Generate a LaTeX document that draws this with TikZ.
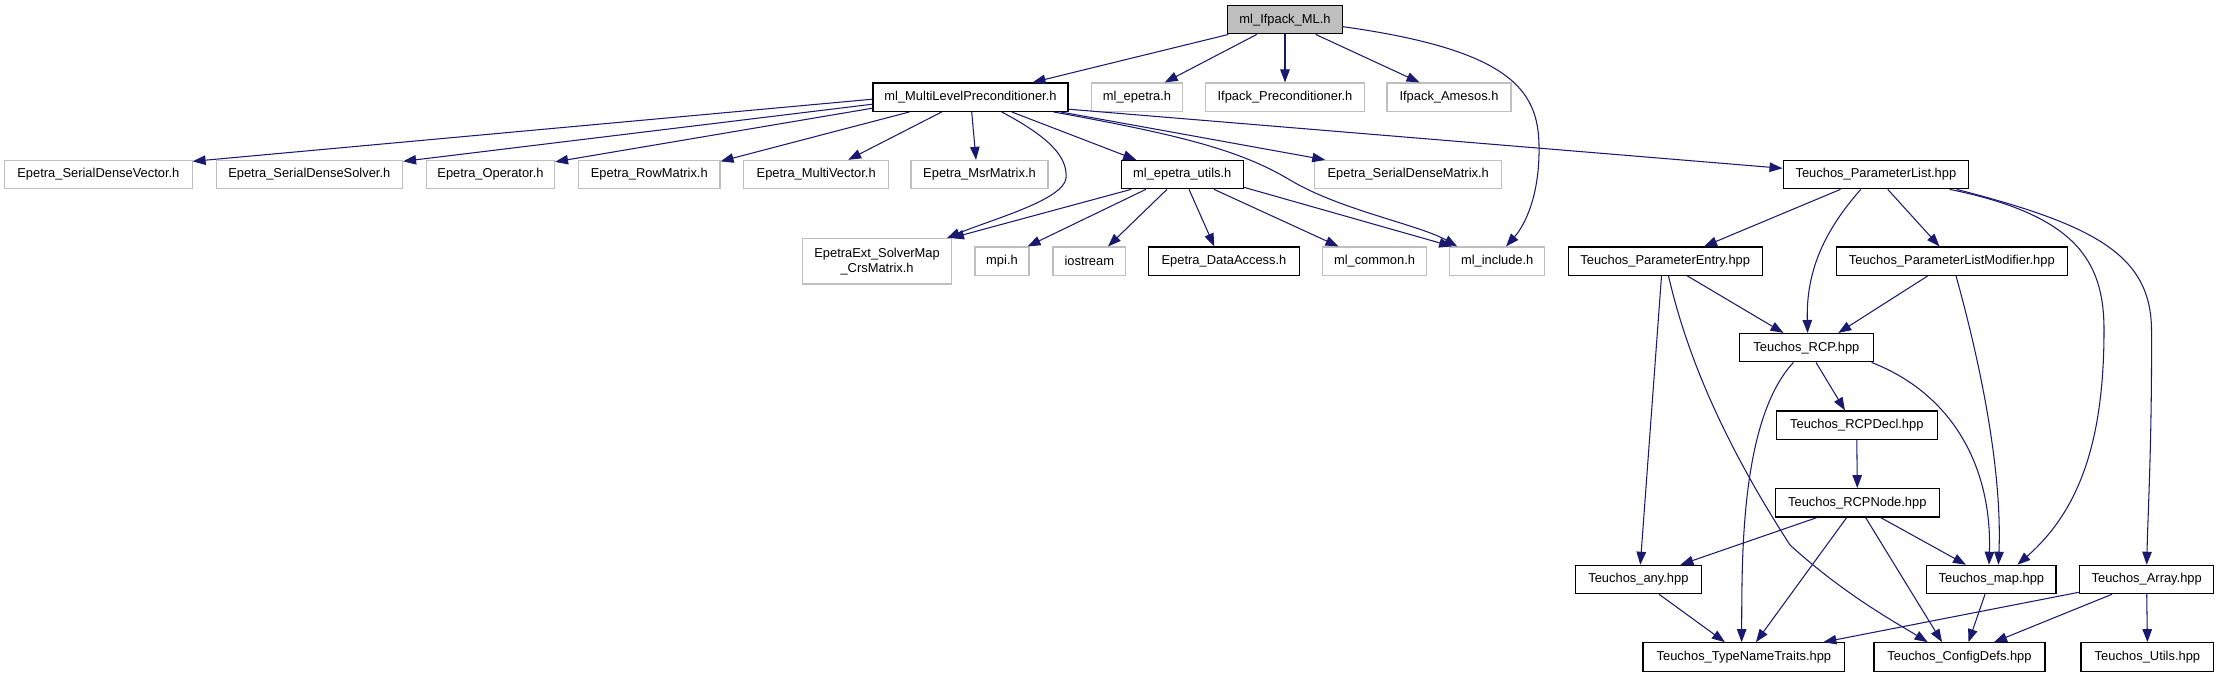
\documentclass[tikz,border=0pt]{standalone}
\usepackage{fontspec}
\setmainfont{Liberation Sans}
\usetikzlibrary{arrows.meta}
\definecolor{edgec}{HTML}{191970}
\definecolor{greyb}{HTML}{BFBFBF}
\begin{document}
\begin{tikzpicture}[x=1pt,y=-1pt,
  box/.style={draw=black, line width=1.1pt, fill=white, minimum height=28.4pt, inner sep=0pt, font=\fontsize{12.9}{15}\selectfont},
  gbox/.style={box, draw=greyb},
  rootbox/.style={box, fill=greyb},
  e/.style={draw=edgec, line width=1.05pt, -{Triangle[length=13pt,width=9.5pt]}}]
\useasboundingbox (0,0) rectangle (2219,677);
\fill[white] (0,0) rectangle (2219,677);
% row 0
\node[rootbox, minimum width=115pt] (root) at (1285,19.7) {ml\_Ifpack\_ML.h};
% row 1
\node[box, minimum width=195pt] (mlp) at (970.5,97.2) {ml\_MultiLevelPreconditioner.h};
\node[gbox, minimum width=91pt] (mle) at (1137,97.2) {ml\_epetra.h};
\node[gbox, minimum width=159pt] (ifp) at (1285,97.2) {Ifpack\_Preconditioner.h};
\node[gbox, minimum width=124pt] (ame) at (1449,97.2) {Ifpack\_Amesos.h};
% row 2
\node[gbox, minimum width=187.3pt] (sdv) at (98.4,174.6) {Epetra\_SerialDenseVector.h};
\node[gbox, minimum width=186.5pt] (sds) at (309.3,174.6) {Epetra\_SerialDenseSolver.h};
\node[gbox, minimum width=128pt] (op) at (490.5,174.6) {Epetra\_Operator.h};
\node[gbox, minimum width=141.4pt] (rowm) at (649.3,174.6) {Epetra\_RowMatrix.h};
\node[gbox, minimum width=144.8pt] (mv) at (816.2,174.6) {Epetra\_MultiVector.h};
\node[gbox, minimum width=137pt] (msr) at (979.5,174.6) {Epetra\_MsrMatrix.h};
\node[box, minimum width=122.5pt] (utils) at (1182.3,174.6) {ml\_epetra\_utils.h};
\node[gbox, minimum width=186.8pt] (sdm) at (1408.2,174.6) {Epetra\_SerialDenseMatrix.h};
\node[box, minimum width=185.7pt] (plist) at (1875.9,174.6) {Teuchos\_ParameterList.hpp};
% row 3
\node[gbox, minimum width=148.6pt, minimum height=45.3pt, align=center] (ext) at (877.1,261.3) {EpetraExt\_SolverMap\\\_CrsMatrix.h};
\node[gbox, minimum width=54pt] (mpi) at (1002,261.2) {mpi.h};
\node[gbox, minimum width=72.7pt] (ios) at (1089.3,261.2) {iostream};
\node[box, minimum width=150.5pt] (da) at (1224,261.2) {Epetra\_DataAccess.h};
\node[gbox, minimum width=104.3pt] (common) at (1374.5,261.2) {ml\_common.h};
\node[gbox, minimum width=95pt] (include) at (1497.2,261.2) {ml\_include.h};
\node[box, minimum width=194.3pt] (pentry) at (1665.2,261.2) {Teuchos\_ParameterEntry.hpp};
\node[box, minimum width=231pt] (pmod) at (1951.8,261.2) {Teuchos\_ParameterListModifier.hpp};
% lower rows
\node[box, minimum width=133.3pt] (rcp) at (1806.4,347.7) {Teuchos\_RCP.hpp};
\node[box, minimum width=160.8pt] (rcpdecl) at (1856.8,425.2) {Teuchos\_RCPDecl.hpp};
\node[box, minimum width=164.5pt] (rcpnode) at (1857.3,502.8) {Teuchos\_RCPNode.hpp};
\node[box, minimum width=125.3pt] (any) at (1638.4,579.5) {Teuchos\_any.hpp};
\node[box, minimum width=129.2pt] (map) at (1991.4,579.5) {Teuchos\_map.hpp};
\node[box, minimum width=134.3pt] (array) at (2146.7,579.5) {Teuchos\_Array.hpp};
\node[box, minimum width=201.8pt] (tnt) at (1743.9,656.9) {Teuchos\_TypeNameTraits.hpp};
\node[box, minimum width=171pt] (cfg) at (1959.5,656.9) {Teuchos\_ConfigDefs.hpp};
\node[box, minimum width=132.8pt] (tutils) at (2147.4,656.9) {Teuchos\_Utils.hpp};
% root edges
\draw[e] ([xshift=-56.6pt]root.south) -- ([xshift=62pt]mlp.north);
\draw[e] ([xshift=-28.3pt]root.south) -- ([xshift=27.7pt]mle.north);
\draw[e] (root.south) -- (ifp.north);
\draw[e] ([xshift=30.7pt]root.south) -- ([xshift=-29.5pt]ame.north);
\draw[e] ([yshift=-7pt]root.east) .. controls (1510,50) and (1538,90) .. (1539,145)
  .. controls (1540,195) and (1525,225) .. ([xshift=8.8pt]include.north);
% mlp edges
\draw[e] ([yshift=-2pt]mlp.west) -- ([yshift=-1.5pt]sdv.north east);
\draw[e] ([yshift=-7pt]mlp.west) -- ([yshift=-1.5pt]sds.north east);
\draw[e] ([yshift=-11pt]mlp.west) -- ([yshift=-2pt]op.north east);
\draw[e] ([xshift=37pt]mlp.south west) -- ([yshift=-1.5pt]rowm.north east);
\draw[e] ([xshift=-28.8pt]mlp.south) -- ([xshift=32pt]mv.north);
\draw[e] ([xshift=1.2pt]mlp.south) -- ([xshift=-3.5pt]msr.north);
\draw[e] ([xshift=31.2pt]mlp.south) .. controls (1045,135) and (1068,155) .. (1066,178)
  .. controls (1064,200) and (990,220) .. ([xshift=-5pt]ext.north east);
\draw[e] ([xshift=41.2pt]mlp.south) -- ([xshift=15.7pt]utils.north west);
\draw[e] ([xshift=-15pt]mlp.south east) .. controls (1180,135) and (1240,150) .. (1290,180)
  .. controls (1340,210) and (1420,225) .. ([xshift=8pt]include.north west);
\draw[e] ([xshift=-8pt]mlp.south east) -- ([xshift=11pt]sdm.north west);
\draw[e] ([yshift=-12pt]mlp.east) -- ([yshift=6.3pt]plist.west);
% utils edges
\draw[e] ([xshift=10.7pt]utils.south west) -- ([xshift=-1pt]ext.north east);
\draw[e] ([xshift=-36.4pt]utils.south) -- ([xshift=-2pt]mpi.north east);
\draw[e] ([xshift=-15.3pt]utils.south) -- ([xshift=18.7pt]ios.north);
\draw[e] ([xshift=6.7pt]utils.south) -- ([xshift=-9.7pt]da.north);
\draw[e] ([xshift=31.7pt]utils.south) -- ([xshift=16.7pt]common.north west);
\draw[e] ([yshift=2pt]utils.south east) -- ([xshift=3pt]include.north west);
% parameter list edges
\draw[e] ([xshift=-35.4pt]plist.south) -- ([xshift=38.8pt]pentry.north);
\draw[e] ([xshift=-15.1pt]plist.south) .. controls (1825,230) and (1806,270) .. ([xshift=1.2pt]rcp.north);
\draw[e] ([xshift=11.8pt]plist.south) -- ([xshift=-12.3pt]pmod.north);
\draw[e] ([xshift=-19.7pt]plist.south east) .. controls (2075,215) and (2104,260) .. (2104,330)
  .. controls (2104,440) and (2080,510) .. ([xshift=26pt]map.north);
\draw[e] ([xshift=-12.7pt]plist.south east) .. controls (2095,225) and (2151,255) .. (2151.5,330)
  .. controls (2152,440) and (2148,510) .. (array.north);
% parameter entry edges
\draw[e] ([xshift=-3.7pt]pentry.south) -- ([xshift=1.9pt]any.north);
\draw[e] ([xshift=3.3pt]pentry.south) .. controls (1690,370) and (1735,460) .. (1790,545)
  .. controls (1845,595) and (1895,622) .. ([xshift=-31.8pt]cfg.north);
\draw[e] ([xshift=22.2pt]pentry.south) -- ([xshift=44.3pt]rcp.north west);
% modifier edges
\draw[e] ([xshift=-24.1pt]pmod.south) -- ([xshift=31.8pt]rcp.north);
\draw[e] ([xshift=4.2pt]pmod.south) .. controls (1985,380) and (2002,480) .. ([xshift=7pt]map.north);
% rcp edges
\draw[e] ([xshift=9.6pt]rcp.south) -- ([xshift=-11.8pt]rcpdecl.north);
\draw[e] ([xshift=-13pt]rcp.south) .. controls (1740,420) and (1742,560) .. ([xshift=-2.3pt]tnt.north);
\draw[e] ([xshift=-2pt]rcp.south east) .. controls (1955,395) and (1992,470) .. ([xshift=-2.4pt]map.north);
\draw[e] (rcpdecl.south) -- (rcpnode.north);
% rcpnode edges
\draw[e] ([xshift=-40.3pt]rcpnode.south) -- ([xshift=42pt]any.north);
\draw[e] ([xshift=-10.6pt]rcpnode.south) -- ([xshift=12pt]tnt.north);
\draw[e] ([xshift=8.3pt]rcpnode.south) -- ([xshift=-17.5pt]cfg.north);
\draw[e] ([xshift=23.3pt]rcpnode.south) -- ([xshift=-25.4pt]map.north);
% bottom edges
\draw[e] ([xshift=20.6pt]any.south) -- ([xshift=-19pt]tnt.north);
\draw[e] ([xshift=-6.4pt]map.south) -- ([xshift=9pt]cfg.north);
\draw[e] ([yshift=2pt]array.south west) -- ([xshift=-22pt]tnt.north east);
\draw[e] ([xshift=-34.7pt]array.south) -- ([xshift=34.5pt]cfg.north);
\draw[e] (array.south) -- (tutils.north);
\end{tikzpicture}
\end{document}
